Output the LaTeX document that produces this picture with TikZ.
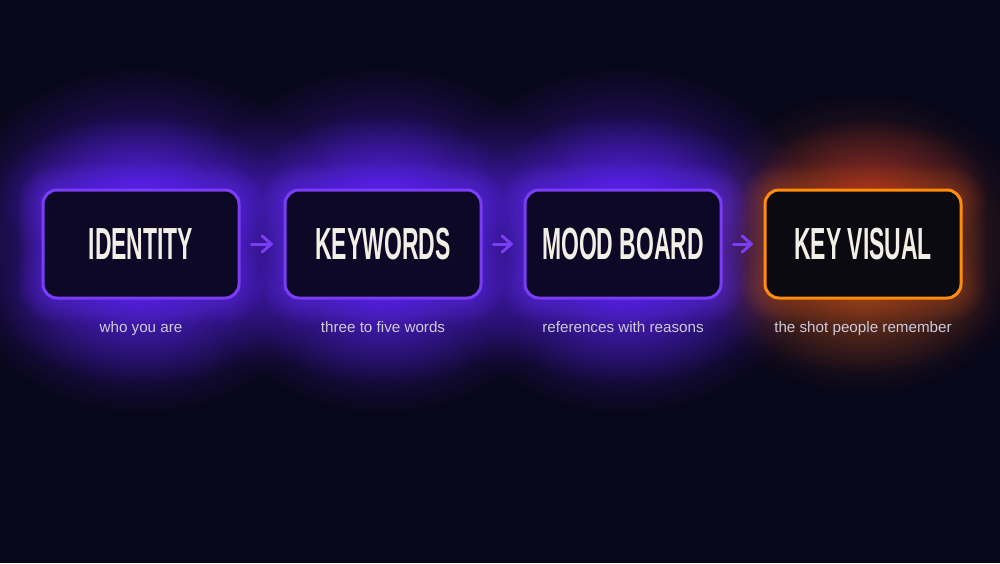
\documentclass[tikz,border=0pt]{standalone}
\usepackage{fontspec}
\setmainfont{Liberation Sans}
\newfontfamily\headfont{Liberation Sans}[FakeStretch=0.51]
\usetikzlibrary{arrows.meta,fadings}
\definecolor{bgcol}{HTML}{080719}
\definecolor{violetB}{HTML}{7A3CF5}
\definecolor{glowP}{HTML}{5A22F0}
\definecolor{rimP}{HTML}{6A30FF}
\definecolor{boxfill}{HTML}{0C0826}
\definecolor{orangeB}{HTML}{FF8C0A}
\definecolor{glowO}{HTML}{E0601A}
\definecolor{glowR}{HTML}{B03028}
\definecolor{kvfill}{HTML}{0B0A10}
\definecolor{headwhite}{HTML}{F2EFE6}
\definecolor{capgrey}{HTML}{CDCADB}
\tikzfading[name=glowfade, inner color=transparent!0, outer color=transparent!100]
% #1 x, #2 y, #3 colour, #4 x radius, #5 y radius, #6 opacity
\newcommand\myglow[6]{%
  \fill[#3, fill opacity=#6, path fading=glowfade] (#1,#2) ellipse ({#4} and {#5});%
}
% rim glow around a 196x108 box centred at #1,#2, opacity #4 per layer
\newcommand\myrim[4]{%
  \foreach \i in {1,...,10}{%
    \pgfmathsetmacro\rr{7+\i*1.25}%
    \fill[#3, opacity=#4, rounded corners=\rr pt]
      (#1-98-\i*2.5, #2-54-\i*2.5) rectangle (#1+98+\i*2.5, #2+54+\i*2.5);
  }%
}
\begin{document}
\begin{tikzpicture}[x=0.5pt,y=-0.5pt,
  stagebox/.style={draw=violetB, line width=1.5pt, fill=boxfill, rounded corners=7pt,
    minimum width=98pt, minimum height=54pt, inner sep=0pt, text=headwhite,
    font=\headfont\bfseries\fontsize{22.5}{24}\selectfont},
  keybox/.style={stagebox, draw=orangeB, fill=kvfill},
  caption/.style={text=capgrey, inner sep=0pt, anchor=base, font=\fontsize{7.6}{9}\selectfont},
  flow/.style={draw=violetB, line width=1.5pt, line cap=round,
    -{Straight Barb[length=4.5pt,width=8pt,line cap=round]}, shorten <=5.5pt, shorten >=5pt}]
\useasboundingbox (0,0) rectangle (1000,563);
\fill[bgcol] (0,0) rectangle (1000,563);
% glows
\foreach \cx in {141,383,623}{%
  \myglow{\cx}{240}{glowP}{200}{175}{0.75}
  \myglow{\cx}{195}{glowP}{145}{80}{0.85}
  \myglow{\cx}{300}{glowP}{145}{85}{0.6}
  \myrim{\cx}{244}{rimP}{0.05}
}
\myglow{863}{244}{glowO}{175}{150}{0.4}
\myglow{870}{188}{glowR}{120}{70}{0.7}
\myglow{863}{300}{glowO}{135}{75}{0.35}
\myrim{863}{244}{glowO}{0.035}
% boxes
\node[stagebox] (identity) at (141,244) {IDENTITY};
\node[stagebox] (keywords) at (383,244) {KEYWORDS};
\node[stagebox] (mood) at (623,244) {MOOD BOARD};
\node[keybox] (key) at (863,244) {KEY VISUAL};
% captions
\node[caption] (c1) at (141,332) {who you are};
\node[caption] (c2) at (383,332) {three to five words};
\node[caption] (c3) at (623,332) {references with reasons};
\node[caption] (c4) at (863,332) {the shot people remember};
% arrows
\draw[flow] (identity) -- (keywords);
\draw[flow] (keywords) -- (mood);
\draw[flow] (mood) -- (key);
\end{tikzpicture}
\end{document}
